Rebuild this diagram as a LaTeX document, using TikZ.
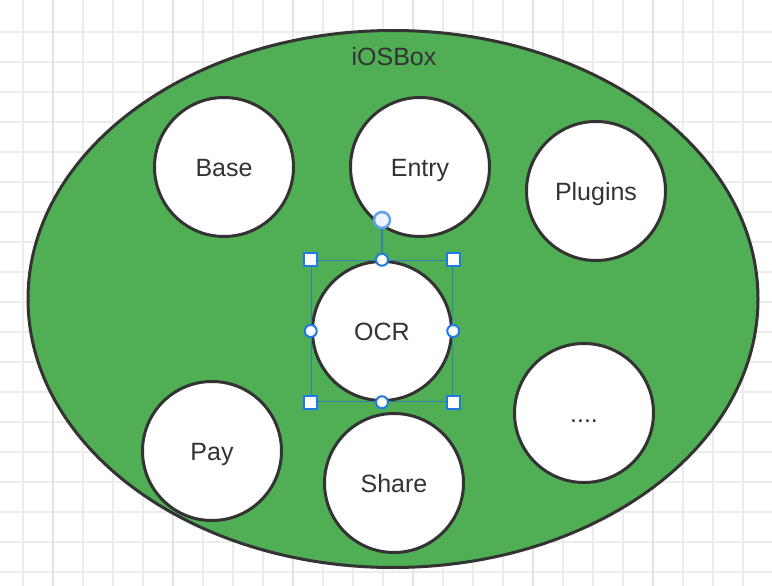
\documentclass[tikz,border=0pt]{standalone}
\usepackage{fontspec}
\setmainfont{Liberation Sans}
\usetikzlibrary{shapes.geometric}
\definecolor{boxgreen}{RGB}{80,174,85}
\definecolor{edgegray}{RGB}{51,51,51}
\definecolor{selblue}{RGB}{30,122,230}
\definecolor{selline}{RGB}{45,130,175}
\definecolor{gridgray}{RGB}{236,236,236}
\definecolor{gridmajor}{RGB}{228,228,228}
\tikzset{
  gridline/.style={draw=gridgray,line width=1.5},
  gridthick/.style={draw=gridmajor,line width=2},
  outerbox/.style={ellipse,draw=edgegray,line width=3,fill=boxgreen,
    minimum width=730,minimum height=537,inner sep=0},
  module/.style={circle,draw=edgegray,line width=3,fill=white,minimum size=139,
    inner sep=0,text=edgegray,text height=18,text depth=0,
    font=\fontsize{25}{28}\selectfont},
  boxlabel/.style={text=edgegray,text height=18,text depth=0,
    font=\fontsize{25}{28}\selectfont},
  selbox/.style={draw=selline,line width=1.5,minimum size=141,inner sep=0},
  handlesq/.style={draw=selblue,line width=2,fill=white,minimum size=13,inner sep=0},
  handlecirc/.style={circle,draw=selblue,line width=2,fill=white,minimum size=12,inner sep=0},
  rothandle/.style={circle,draw=selblue!70,line width=2.5,fill=selblue!8,minimum size=16,inner sep=0}
}
\begin{document}
\begin{tikzpicture}[x=1pt,y=-1pt]
\useasboundingbox[fill=white] (0,0) rectangle (772,586);

% Background grid
\foreach \x in {23,53,...,773} \draw[gridline] (\x,0) -- (\x,586);
\foreach \y in {32,62,...,586} \draw[gridline] (0,\y) -- (772,\y);
\foreach \x in {53,173,...,773} \draw[gridthick] (\x,0) -- (\x,586);

% Container
\node[outerbox] (box) at (393,299) {};
\node[boxlabel] (title) at (394,57) {iOSBox};

% Modules
\node[module] (base) at (224,167) {Base};
\node[module] (entry) at (420,167) {Entry};
\node[module] (plugins) at (596,191) {Plugins};
\node[module] (ocr) at (382,331) {OCR};
\node[module] (more) at (584,413) {....};
\node[module] (pay) at (212,451) {Pay};
\node[module] (share) at (394,483) {Share};

% Selection frame on OCR
\node[selbox] (sel) at (ocr.center) {};
\node[rothandle] (rot) at (382,220) {};
\draw[selline,line width=1.5] (rot) -- (sel.north);
\node[handlesq] (hnw) at (sel.north west) {};
\node[handlesq] (hne) at (sel.north east) {};
\node[handlesq] (hsw) at (sel.south west) {};
\node[handlesq] (hse) at (sel.south east) {};
\node[handlecirc] (hn) at (sel.north) {};
\node[handlecirc] (hs) at (sel.south) {};
\node[handlecirc] (hw) at (sel.west) {};
\node[handlecirc] (he) at (sel.east) {};
\end{tikzpicture}
\end{document}
